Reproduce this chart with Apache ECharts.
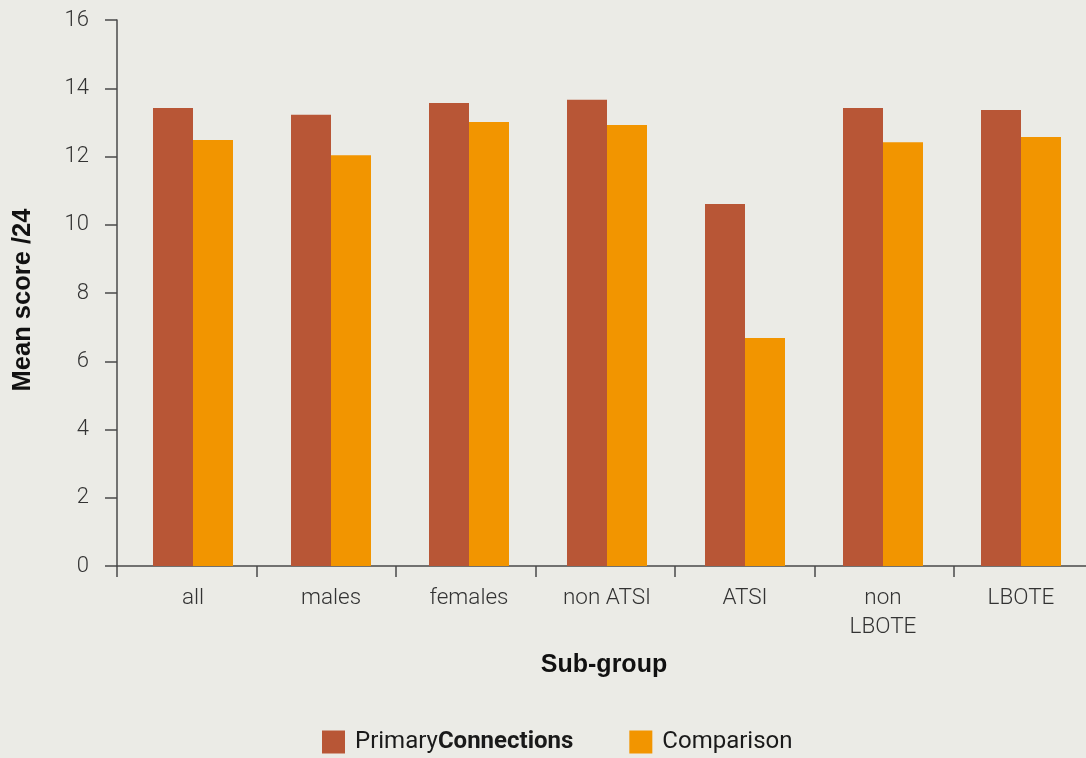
<!DOCTYPE html>
<html>
<head>
<meta charset="utf-8">
<script src="https://cdn.jsdelivr.net/npm/echarts@6/dist/echarts.min.js"></script>
<style>
html,body{margin:0;padding:0;background:#EBEBE6;overflow:hidden;}
#c{width:1100px;height:758px;}
</style>
</head>
<body>
<div id="c"></div>
<script>
var categories = ['all', 'males', 'females', 'non ATSI', 'ATSI', 'non\nLBOTE', 'LBOTE'];
var primaryConnections = [13.42, 13.22, 13.57, 13.66, 10.61, 13.42, 13.36];
var comparison = [12.48, 12.04, 13.01, 12.92, 6.68, 12.42, 12.57];
var yTicks = [0, 2, 4, 6, 8, 10, 12, 14, 16];

var chart = echarts.init(document.getElementById('c'));
var axisColor = '#4a4a4a';
var lightFont = 'Roboto';
chart.setOption({
  backgroundColor: '#EBEBE6',
  animation: false,
  legend: {
    left: 322,
    top: 730,
    padding: 0,
    itemWidth: 23,
    itemHeight: 23,
    itemGap: 56,
    icon: 'rect',
    data: ['PrimaryConnections', 'Comparison'],
    formatter: function (n) {
      return n === 'PrimaryConnections' ? '{a|Primary}{b|Connections}' : '{a|' + n + '}';
    },
    textStyle: {
      padding: [0, 0, 0, 5],
      rich: {
        a: { fontFamily: 'Roboto', fontSize: 24, color: '#1a1a1a' },
        b: { fontFamily: 'Roboto', fontSize: 24, fontWeight: 'bold', color: '#1a1a1a' }
      }
    }
  },
  grid: [
    { left: 124, top: 20, width: 966, bottom: 192 },
    { left: 117, top: 20, width: 976.5, bottom: 192 }
  ],
  xAxis: [
    {
      type: 'category',
      gridIndex: 0,
      data: categories,
      name: 'Sub-group',
      nameLocation: 'middle',
      nameGap: 87,
      nameTextStyle: { fontFamily: 'Liberation Sans', fontWeight: 'bold', fontSize: 25, color: '#111', padding: [0, 6, 0, 0] },
      axisLine: { show: false },
      axisTick: { show: false },
      axisLabel: { margin: 18, fontFamily: lightFont, fontWeight: 300, fontSize: 22.5, color: '#333', lineHeight: 29 }
    },
    {
      type: 'category',
      gridIndex: 1,
      data: categories,
      axisLine: { show: true, lineStyle: { color: axisColor, width: 1.5 } },
      axisTick: { show: true, length: 11, lineStyle: { color: axisColor, width: 1.5 } },
      axisLabel: { show: false },
      splitLine: { show: false }
    }
  ],
  yAxis: [
    {
      type: 'value',
      gridIndex: 0,
      min: 0,
      max: 16,
      interval: 2,
      show: false
    },
    {
      type: 'value',
      gridIndex: 1,
      min: 0,
      max: 16,
      interval: 2,
      name: 'Mean score /24',
      nameLocation: 'middle',
      nameGap: 81,
      nameRotate: 90,
      nameTextStyle: { fontFamily: 'Liberation Sans', fontWeight: 'bold', fontSize: 25.5, color: '#111', padding: [0, 14, 0, 0] },
      axisLine: { show: true, lineStyle: { color: axisColor, width: 1.5 } },
      axisTick: { show: true, length: 12, lineStyle: { color: axisColor, width: 1.5 } },
      splitLine: { show: false },
      axisLabel: {
        margin: 28, fontFamily: lightFont, fontWeight: 300, fontSize: 22, color: '#333',
        formatter: function (v) { return yTicks.indexOf(v) >= 0 ? String(v) : ''; }
      }
    }
  ],
  series: [
    { name: 'PrimaryConnections', type: 'bar', xAxisIndex: 0, yAxisIndex: 0, data: primaryConnections,
      barWidth: 40, barGap: '0%', itemStyle: { color: '#B85636' } },
    { name: 'Comparison', type: 'bar', xAxisIndex: 0, yAxisIndex: 0, data: comparison,
      barWidth: 40, barGap: '0%', itemStyle: { color: '#F29500' } }
  ]
});
</script>
</body>
</html>
